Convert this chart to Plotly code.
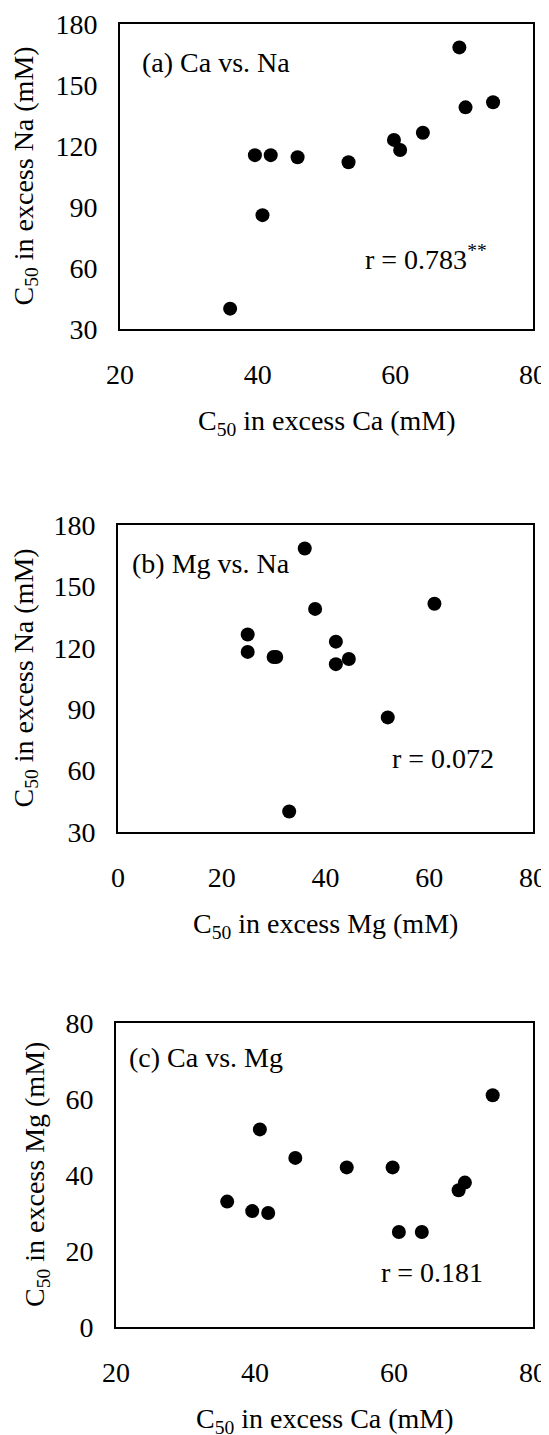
import plotly.graph_objects as go

# Data: 12 samples, C50 values (mM) in excess Ca, Mg, Na
ca = [36.0, 39.6, 41.9, 40.7, 45.8, 53.2, 59.8, 60.7, 64.0, 69.3, 70.2, 74.2]
mg = [33.0, 30.5, 30.0, 52.0, 44.5, 42.0, 42.0, 25.0, 25.0, 36.0, 38.0, 61.0]
na = [40.0, 115.5, 115.5, 86.0, 114.5, 112.0, 123.0, 118.0, 126.5, 168.5, 139.0, 141.5]

panel_labels = ["(a) Ca vs. Na", "(b) Mg vs. Na", "(c) Ca vs. Mg"]
r_labels = ["r = 0.783<sup>**</sup>", "r = 0.072", "r = 0.181"]
x_titles = ["C<sub>50</sub> in excess Ca (mM)", "C<sub>50</sub> in excess Mg (mM)", "C<sub>50</sub> in excess Ca (mM)"]
y_titles = ["C<sub>50</sub> in excess Na (mM)", "C<sub>50</sub> in excess Na (mM)", "C<sub>50</sub> in excess Mg (mM)"]
x_ticks = [[20, 40, 60, 80], [0, 20, 40, 60, 80], [20, 40, 60, 80]]
y_ticks = [[30, 60, 90, 120, 150, 180], [30, 60, 90, 120, 150, 180], [0, 20, 40, 60, 80]]

OFF = 8  # page body margin
W, H = 549 - OFF, 1435 - OFF
FONT = "Liberation Serif, Times New Roman, serif"
FS = 28

# pixel boxes in page coordinates (left, right, top, bottom)
boxes = [(120, 533, 24, 329), (118, 533, 525, 832), (116, 533, 1023, 1327)]
xy_data = [(ca, na), (mg, na), (ca, mg)]
lab_pos = [(0.048, 0.875), (0.029, 0.876), (0.026, 0.885)]
r_pos = [(0.588, 0.233), (0.655, 0.238), (0.63, 0.178)]
ytitle_x = [25, 25, 36]
xtitle_gap = 93

fig = go.Figure()
ann = []
for i in range(3):
    l, r, t, b = [v - OFF for v in boxes[i]]
    xd = [l / W, r / W]
    yd = [1 - b / H, 1 - t / H]
    sx = "" if i == 0 else str(i + 1)
    xs, ys = xy_data[i]
    fig.add_trace(go.Scatter(x=xs, y=ys, mode="markers",
                             marker=dict(size=14, color="black"),
                             xaxis="x" + sx, yaxis="y" + sx, showlegend=False))
    xt, yt = x_ticks[i], y_ticks[i]
    fig.update_layout(**{
        "xaxis" + sx: dict(domain=xd, range=[xt[0], xt[-1]], tickvals=xt, anchor="y" + sx,
                           showline=True, mirror=True, linecolor="black", linewidth=2,
                           showgrid=False, zeroline=False, ticks="", ticklabelstandoff=19,
                           automargin=False,
                           tickfont=dict(family=FONT, size=FS, color="black")),
        "yaxis" + sx: dict(domain=yd, range=[yt[0], yt[-1]], tickvals=yt, anchor="x" + sx,
                           showline=True, mirror=True, linecolor="black", linewidth=2,
                           showgrid=False, zeroline=False, ticks="", ticklabelstandoff=15,
                           automargin=False,
                           tickfont=dict(family=FONT, size=FS, color="black")),
    })
    ann.append(dict(text=panel_labels[i], xref="x" + sx + " domain", yref="y" + sx + " domain",
                    x=lab_pos[i][0], y=lab_pos[i][1], xanchor="left", yanchor="middle",
                    showarrow=False, font=dict(family=FONT, size=FS, color="black")))
    ann.append(dict(text=r_labels[i], xref="x" + sx + " domain", yref="y" + sx + " domain",
                    x=r_pos[i][0], y=r_pos[i][1], xanchor="left", yanchor="middle",
                    showarrow=False, font=dict(family=FONT, size=FS, color="black")))
    ann.append(dict(text=x_titles[i], xref="paper", yref="paper",
                    x=(l + r) / 2 / W, y=1 - (b + xtitle_gap) / H, xanchor="center", yanchor="middle",
                    showarrow=False, font=dict(family=FONT, size=FS, color="black")))
    ann.append(dict(text=y_titles[i], xref="paper", yref="paper", textangle=-90,
                    x=(ytitle_x[i] - OFF) / W, y=1 - (t + b) / 2 / H, xanchor="center", yanchor="middle",
                    showarrow=False, font=dict(family=FONT, size=FS, color="black")))

fig.update_layout(width=W, height=H, margin=dict(l=0, r=0, t=0, b=0, autoexpand=False),
                  template="none",
                  paper_bgcolor="white", plot_bgcolor="white", annotations=ann)
fig.write_html("out.html")
